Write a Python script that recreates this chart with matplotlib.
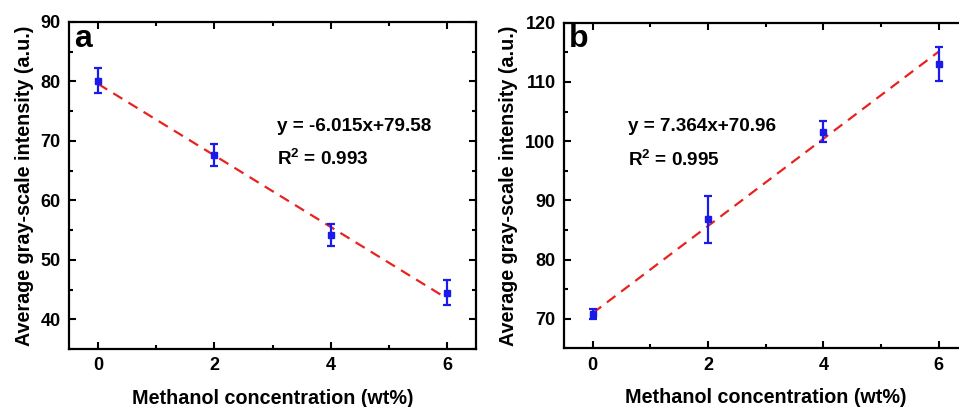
import numpy as np
import matplotlib
matplotlib.use("Agg")
import matplotlib.pyplot as plt
from matplotlib.ticker import MultipleLocator

plt.rcParams['font.family'] = ['Liberation Sans', 'DejaVu Sans']
plt.rcParams['font.weight'] = 'bold'
plt.rcParams['mathtext.fontset'] = 'custom'
plt.rcParams['mathtext.rm'] = 'Liberation Sans:bold'
plt.rcParams['mathtext.bf'] = 'Liberation Sans:bold'
plt.rcParams['mathtext.default'] = 'bf'

# data
conc = [0, 2, 4, 6]

gray_a = [80.1, 67.6, 54.2, 44.5]
err_a = [2.1, 1.8, 1.9, 2.1]
slope_a, icpt_a = -6.015, 79.58

gray_b = [70.8, 86.8, 101.6, 113.0]
err_b = [0.9, 4.0, 1.8, 2.9]
slope_b, icpt_b = 7.364, 70.96

fig = plt.figure(figsize=(9.59, 4.07), dpi=100)
ax_a = fig.add_axes([0.072, 0.1425, 0.4245, 0.8035])
ax_b = fig.add_axes([0.588, 0.144, 0.421, 0.800])


def draw_panel(ax, y, yerr, slope, icpt, ylim, letter, txt_xy, eq):
    xfit = np.array([conc[0], conc[-1]])
    ax.plot(xfit, icpt + slope * xfit, color='#e8231f', lw=1.6,
            linestyle=(0, (4.8, 3.2)), zorder=2)
    ax.errorbar(conc, y, yerr=yerr, fmt='s', color='#1a1aeb', ms=5,
                elinewidth=1.6, capsize=2.8, capthick=1.6, zorder=3)
    ax.set_xlim(-0.5, 6.5)
    ax.set_ylim(*ylim)
    ax.xaxis.set_major_locator(MultipleLocator(2))
    ax.xaxis.set_minor_locator(MultipleLocator(1))
    ax.yaxis.set_major_locator(MultipleLocator(10))
    ax.yaxis.set_minor_locator(MultipleLocator(5))
    ax.tick_params(which='both', direction='in', top=True, right=True,
                   width=1.5, labelsize=13)
    ax.tick_params(which='major', length=5, pad=6)
    ax.tick_params(which='minor', length=3)
    for s in ax.spines.values():
        s.set_linewidth(1.6)
    ax.set_xlabel('Methanol concentration (wt%)', fontsize=14.2,
                  fontweight='bold', labelpad=10.5)
    ax.set_ylabel('Average gray-scale intensity (a.u.)', fontsize=14.2,
                  fontweight='bold', labelpad=5)
    ax.text(0.012, 0.995, letter, transform=ax.transAxes, fontsize=23,
            fontweight='bold', va='top', ha='left')
    ax.text(txt_xy[0], txt_xy[1], eq, fontsize=13.6, fontweight='bold',
            va='center', ha='left')
    ax.text(txt_xy[0], txt_xy[2], r'R$^\mathbf{2}$ = %.3f' % txt_xy[3],
            fontsize=13.6, fontweight='bold', va='center', ha='left')


draw_panel(ax_a, gray_a, err_a, slope_a, icpt_a, (35, 90), 'a',
           (3.07, 72.4, 66.9, 0.993), 'y = -6.015x+79.58')
draw_panel(ax_b, gray_b, err_b, slope_b, icpt_b, (65, 120), 'b',
           (0.62, 102.5, 96.8, 0.995), 'y = 7.364x+70.96')

fig.savefig('out.png', dpi=100)
